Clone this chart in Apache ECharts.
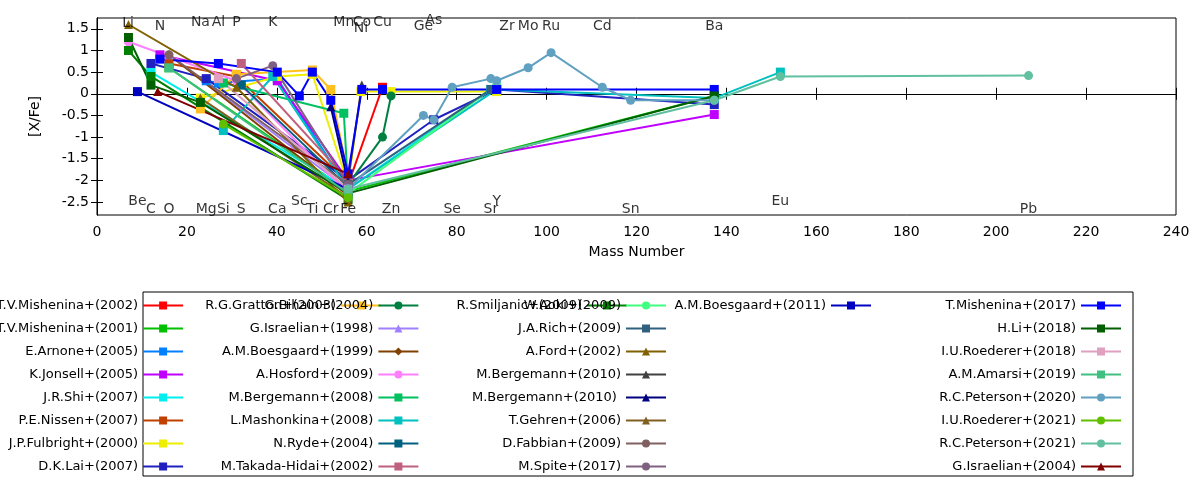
<!DOCTYPE html>
<html>
<head>
<meta charset="utf-8">
<script src="https://cdn.jsdelivr.net/npm/echarts@6/dist/echarts.min.js"></script>
<style>html,body{margin:0;background:#fff}#main{width:1200px;height:480px}</style>
</head>
<body>
<div id="main"></div>
<script>
// element labels: [mass, y, name]
var topLabels = [[6.9,1.62,'Li'],[14,1.55,'N'],[23,1.65,'Na'],[27,1.65,'Al'],[31,1.65,'P'],[39.1,1.65,'K'],
    [54.9,1.65,'Mn'],[58.9,1.65,'Co'],[58.7,1.5,'Ni'],[63.5,1.65,'Cu'],[74.9,1.7,'As'],[72.6,1.55,'Ge'],
    [91.2,1.55,'Zr'],[95.9,1.55,'Mo'],[101,1.55,'Ru'],[112.4,1.55,'Cd'],[137.3,1.55,'Ba']]
var bottomLabels = [[9,-2.48,'Be'],[12,-2.66,'C'],[16,-2.66,'O'],[24.3,-2.66,'Mg'],[28.1,-2.66,'Si'],[32.1,-2.66,'S'],
    [40.1,-2.66,'Ca'],[45,-2.48,'Sc'],[47.9,-2.66,'Ti'],[52,-2.66,'Cr'],[55.85,-2.66,'Fe'],[65.4,-2.66,'Zn'],
    [79,-2.66,'Se'],[88.9,-2.48,'Y'],[87.6,-2.66,'Sr'],[118.7,-2.66,'Sn'],[152,-2.48,'Eu'],[207.2,-2.66,'Pb']]

var names = ['T.V.Mishenina+(2002)','T.V.Mishenina+(2001)','E.Arnone+(2005)','K.Jonsell+(2005)','J.R.Shi+(2007)',
    'P.E.Nissen+(2007)','J.P.Fulbright+(2000)','D.K.Lai+(2007)','R.G.Gratton+(2003)',
    'G.Bihain+(2004)','G.Israelian+(1998)','A.M.Boesgaard+(1999)','A.Hosford+(2009)','M.Bergemann+(2008)',
    'L.Mashonkina+(2008)','N.Ryde+(2004)','M.Takada-Hidai+(2002)','R.Smiljanic+(2009)',
    'W.Aoki+(2009)','J.A.Rich+(2009)','A.Ford+(2002)','M.Bergemann+(2010)','M.Bergemann+(2010) ',
    'T.Gehren+(2006)','D.Fabbian+(2009)','M.Spite+(2017)','A.M.Boesgaard+(2011)',
    'T.Mishenina+(2017)','H.Li+(2018)','I.U.Roederer+(2018)','A.M.Amarsi+(2019)','R.C.Peterson+(2020)',
    'I.U.Roederer+(2021)','R.C.Peterson+(2021)','G.Israelian+(2004)']
var colors = ['#ff0000','#00c000','#0080ff','#c000ff','#00eeee','#c04000','#eeee00','#2020c0','#ffc020',
    '#008040','#a080ff','#804000','#ff80ff','#00c060','#00c0c0','#006080','#c06080','#008000',
    '#40ff80','#306080','#806000','#404040','#000080','#806020','#806060','#806080','#0000c0',
    '#0000ff','#006000','#e0a0c0','#40c080','#60a0c0','#60c000','#60c0a0','#800000']
var symbols = ['rect','rect','rect','rect','rect','rect','rect','rect','rect',
    'circle','triangle','diamond','circle','rect','rect','rect','rect','rect',
    'circle','rect','triangle','triangle','triangle','triangle','circle','circle','rect',
    'rect','rect','rect','rect','circle','circle','circle','triangle']
var values = [
    [[55.85,-2.1],[63.5,0.15]],
    [[16,0.6],[55.85,-2.25],[137.3,-0.05]],
    [[24.3,0.3],[27,0.25],[40.1,0.35],[55.85,-2.2]],
    [[14,0.9],[40.1,0.3],[55.85,-2.0],[137.3,-0.48]],
    [[12,0.5],[55.85,-2.2],[87.6,0.1]],
    [[16,0.7],[31,0.4],[55.85,-2.05]],
    [[23,-0.1],[40.1,0.4],[47.9,0.45],[55.85,-2.1],[58.7,0.05],[65.4,0.05],[88.9,0.05]],
    [[12,0.7],[24.3,0.35],[55.85,-2.0],[74.9,-0.6],[88.9,0.1],[137.3,-0.25]],
    [[23,-0.35],[31,0.45],[47.9,0.55],[52,0.1],[55.85,-1.9]],
    [[55.85,-2.1],[63.5,-1.0],[65.4,-0.05]],
    [[16,0.9],[55.85,-2.2]],
    [[16,0.9],[55.85,-2.35]],
    [[7,1.2],[31,0.3],[55.85,-2.3]],
    [[28.1,0.25],[54.9,-0.45],[55.85,-2.2]],
    [[28.1,-0.85],[39.1,0.4],[55.85,-2.2],[88.9,0.1],[137.3,-0.1],[152,0.5]],
    [[32.1,0.2],[55.85,-2.15]],
    [[32.1,0.7],[55.85,-2.0]],
    [[7,1.0],[12,0.4],[55.85,-2.45]],
    [[55.85,-2.3],[88.9,0.2]],
    [[55.85,-2.1],[87.6,0.1]],
    [[7,1.6],[31,0.15],[55.85,-2.5]],
    [[55.85,-2.0],[58.9,0.2]],
    [[52,-0.3],[55.85,-2.05]],
    [[23,-0.1],[55.85,-2.4]],
    [[16,0.9],[55.85,-2.1]],
    [[31,0.35],[39.1,0.65],[55.85,-2.1]],
    [[9,0.05],[55.85,-2.2]],
    [[14,0.8],[27,0.7],[40.1,0.5],[45,-0.05],[47.9,0.5],[52,-0.15],[55.85,-1.85],[58.9,0.1],[63.5,0.1],[88.9,0.1],[137.3,0.1]],
    [[7,1.3],[12,0.2],[23,-0.2],[55.85,-2.3],[137.3,-0.05]],
    [[27,0.35],[55.85,-2.2]],
    [[16,0.6],[55.85,-2.3]],
    [[55.85,-2.2],[72.6,-0.5],[74.9,-0.6],[79,0.15],[87.6,0.35],[88.9,0.3],[95.9,0.6],[101,0.95],[112.4,0.15],[118.7,-0.15],[137.3,-0.15]],
    [[28.1,-0.7],[55.85,-2.4]],
    [[55.85,-2.2],[137.3,-0.15],[152,0.4],[207.2,0.42]],
    [[13.5,0.05],[55.85,-1.85]]
]
var yTicks = [-2.5,-2,-1.5,-1,-0.5,0,0.5,1,1.5]

var font = 'DejaVu Sans'
var series = []
for (var i = 0; i < names.length; i++) {
    series.push({
        name: names[i], type: 'line', data: values[i],
        symbol: symbols[i], symbolSize: 9,
        itemStyle: { color: colors[i] },
        lineStyle: { color: colors[i], width: 2 },
        emphasis: { disabled: true }, animation: false, z: 3
    })
}
function labelSeries(arr) {
    return {
        type: 'scatter', data: arr, symbolSize: 0, silent: true, z: 5,
        label: { show: true, position: 'inside', formatter: function (p) { return p.data[2] },
            color: '#000', fontFamily: font, fontSize: 14 }
    }
}
series.push(labelSeries(topLabels))
series.push(labelSeries(bottomLabels))

var legends = []
var rights = [818, 572, 328, 78]
for (var c = 0; c < 4; c++) {
    legends.push({
        data: names.slice(c * 9, c * 9 + 9), orient: 'vertical', align: 'right',
        right: rights[c], top: 299, height: 180, padding: 0,
        itemWidth: 40, itemHeight: 10, itemGap: 10,
        textStyle: { fontFamily: font, fontSize: 13, color: '#000' }, selectedMode: false
    })
}

var axisCommon = {
    axisLine: { lineStyle: { color: '#000' } },
    splitLine: { show: false }
}
var option = {
    backgroundColor: '#fff',
    animation: false,
    grid: { left: 97, right: 24, top: 18, bottom: 265, show: true, borderColor: '#000', borderWidth: 1 },
    xAxis: [
        Object.assign({ type: 'value', min: 0, max: 240, interval: 20, name: 'Mass Number',
            nameLocation: 'middle', nameGap: 30, nameTextStyle: { fontFamily: font, fontSize: 14, color: '#000' },
            axisTick: { inside: true, length: 6, lineStyle: { color: '#000' } },
            axisLabel: { fontFamily: font, fontSize: 14, color: '#000', margin: 10 } }, axisCommon),
        Object.assign({ type: 'value', min: 0, max: 240, interval: 20, position: 'top',
            axisTick: { inside: true, length: 6, lineStyle: { color: '#000' } },
            axisLabel: { show: false } }, axisCommon)
    ],
    yAxis: [
        Object.assign({ type: 'value', min: -2.8, max: 1.75, name: '[X/Fe]',
            nameLocation: 'middle', nameGap: 55, nameRotate: 90,
            nameTextStyle: { fontFamily: font, fontSize: 14, color: '#000' },
            axisTick: { inside: true, length: 6, customValues: yTicks, lineStyle: { color: '#000' } },
            axisLabel: { fontFamily: font, fontSize: 14, color: '#000', customValues: yTicks, margin: 8 } }, axisCommon),
        Object.assign({ type: 'value', min: -2.8, max: 1.75, position: 'right',
            axisTick: { inside: true, length: 6, customValues: yTicks, lineStyle: { color: '#000' } },
            axisLabel: { show: false } }, axisCommon)
    ],
    legend: legends,
    graphic: [{ type: 'rect', shape: { x: 143, y: 292, width: 990, height: 184 },
        style: { fill: 'none', stroke: '#000', lineWidth: 1 } }],
    series: series
}
var chart = echarts.init(document.getElementById('main'))
chart.setOption(option)
</script>
</body>
</html>
